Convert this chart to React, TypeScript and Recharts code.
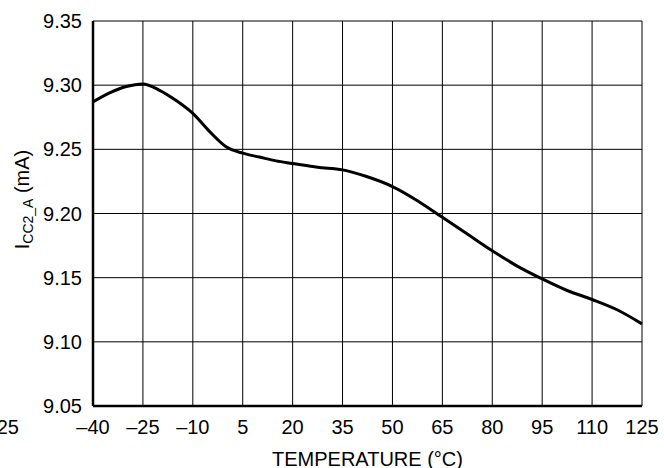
import React from "react";
import { LineChart, Line, XAxis, YAxis, CartesianGrid, Customized } from "recharts";

const temperatures = [-40, -35, -30, -25, -20, -15, -10, -5, 0, 5, 10, 15, 20, 27.5, 35, 42, 50, 57.5, 65, 72.5, 80, 87.5, 95, 102.5, 110, 117.5, 125];
const iccValues = [9.287, 9.294, 9.299, 9.301, 9.296, 9.288, 9.278, 9.264, 9.252, 9.247, 9.244, 9.241, 9.239, 9.236, 9.234, 9.229, 9.221, 9.21, 9.197, 9.184, 9.171, 9.159, 9.149, 9.14, 9.133, 9.125, 9.114];

const xTicks = [-40, -25, -10, 5, 20, 35, 50, 65, 80, 95, 110, 125];
const xTickLabels = ["–40", "–25", "–10", "5", "20", "35", "50", "65", "80", "95", "110", "125"];
const yTicks = [9.05, 9.1, 9.15, 9.2, 9.25, 9.3, 9.35];
const yTickLabels = ["9.05", "9.10", "9.15", "9.20", "9.25", "9.30", "9.35"];
const strayLabel = "25";

const data = temperatures.map((t, i) => ({ t, v: iccValues[i] }));

const FONT = "'Liberation Sans', Arial, sans-serif";

const YLabel = (props: any) => {
  const vb = props.viewBox || {};
  const cx = 29;
  const cy = vb.y + vb.height / 2 - 14;
  return (
    <text
      x={cx}
      y={cy}
      transform={`rotate(-90 ${cx} ${cy})`}
      textAnchor="middle"
      fontFamily={FONT}
      fontSize={20}
      fill="#000"
    >
      <tspan>I</tspan>
      <tspan fontSize={14} dy={4}>CC2_A</tspan>
      <tspan dy={-4}> (mA)</tspan>
    </text>
  );
};

const Stray = () => (
  <text x={19} y={434} textAnchor="end" fontFamily={FONT} fontSize={20} fill="#000">
    {strayLabel}
  </text>
);

export default function App() {
  return (
    <div style={{ position: "absolute", left: 0, top: 0, width: 664, height: 468, background: "#fff" }}>
      <LineChart width={664} height={468} data={data} margin={{ top: 21, right: 22, bottom: 0, left: 0 }}>
        <CartesianGrid stroke="#000" strokeWidth={1} horizontalValues={yTicks} verticalValues={xTicks} />
        <XAxis
          dataKey="t"
          type="number"
          domain={[-40, 125]}
          ticks={xTicks}
          tickFormatter={(v: number) => xTickLabels[xTicks.indexOf(v)] ?? String(v)}
          interval={0}
          height={62}
          tickLine={false}
          tickSize={0}
          tickMargin={14}
          axisLine={{ stroke: "#000", strokeWidth: 2.5 }}
          tick={{ fill: "#000", fontSize: 20, fontFamily: FONT }}
          label={{ value: "TEMPERATURE (°C)", position: "insideBottom", offset: 2, fill: "#000", fontSize: 20, fontFamily: FONT }}
        />
        <YAxis
          type="number"
          domain={[9.05, 9.35]}
          ticks={yTicks}
          tickFormatter={(v: number) => {
            const i = yTicks.findIndex((y) => Math.abs(y - v) < 1e-6);
            return i >= 0 ? yTickLabels[i] : v.toFixed(2);
          }}
          interval={0}
          width={93}
          tickLine={false}
          tickSize={0}
          tickMargin={11}
          axisLine={{ stroke: "#000", strokeWidth: 2.5 }}
          tick={{ fill: "#000", fontSize: 20, fontFamily: FONT }}
          label={<YLabel />}
        />
        <Line type="monotone" dataKey="v" stroke="#000" strokeWidth={3} dot={false} isAnimationActive={false} />
        <Customized component={Stray} />
      </LineChart>
    </div>
  );
}
